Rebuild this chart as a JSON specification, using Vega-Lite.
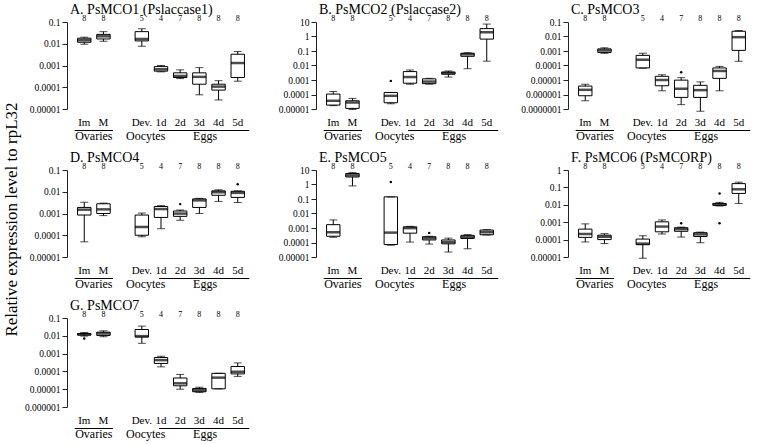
{
"$schema": "https://vega.github.io/schema/vega-lite/v6.json",
"padding": {"left": 2, "top": 3, "right": 0, "bottom": 0},
"title": {"text": "Relative expression level to rpL32", "orient": "left", "anchor": "middle", "frame": "bounds", "fontSize": 17, "font": "Liberation Serif", "fontWeight": "normal", "color": "black", "offset": -4},
"spacing": 7,
"datasets": {
"stats": [
{"panel":"A","cat":"Im","min":0.0095,"q1":0.0117,"med":0.0145,"q3":0.018,"max":0.02},
{"panel":"A","cat":"M","min":0.013,"q1":0.0166,"med":0.022,"q3":0.027,"max":0.036},
{"panel":"A","cat":"Dev.","min":0.0077,"q1":0.0135,"med":0.0166,"q3":0.036,"max":0.049},
{"panel":"A","cat":"1d","min":0.00051,"q1":0.00055,"med":0.00067,"q3":0.00089,"max":0.001},
{"panel":"A","cat":"2d","min":0.00025,"q1":0.00028,"med":0.00033,"q3":0.00046,"max":0.00063},
{"panel":"A","cat":"3d","min":0.000045,"q1":0.000138,"med":0.0003,"q3":0.00046,"max":0.0008},
{"panel":"A","cat":"4d","min":0.000026,"q1":0.000074,"med":0.000107,"q3":0.000138,"max":0.0002},
{"panel":"A","cat":"5d","min":0.00019,"q1":0.00028,"med":0.0013,"q3":0.0033,"max":0.0044},
{"panel":"B","cat":"Im","min":0.000017,"q1":0.0000186,"med":0.000037,"q3":0.000107,"max":0.00016},
{"panel":"B","cat":"M","min":0.0000093,"q1":0.000011,"med":0.000028,"q3":0.000037,"max":0.000054},
{"panel":"B","cat":"Dev.","min":0.000023,"q1":0.000027,"med":0.000081,"q3":0.000138,"max":0.000138},
{"panel":"B","cat":"1d","min":0.00051,"q1":0.0006,"med":0.0016,"q3":0.0038,"max":0.0049},
{"panel":"B","cat":"2d","min":0.00052,"q1":0.00056,"med":0.00078,"q3":0.0012,"max":0.0013},
{"panel":"B","cat":"3d","min":0.0016,"q1":0.0025,"med":0.0031,"q3":0.0035,"max":0.0042},
{"panel":"B","cat":"4d","min":0.006,"q1":0.043,"med":0.059,"q3":0.07,"max":0.076},
{"panel":"B","cat":"5d","min":0.02,"q1":0.66,"med":1.96,"q3":3.5,"max":7.2},
{"panel":"C","cat":"Im","min":0.00000037,"q1":0.00000082,"med":0.0000021,"q3":0.0000038,"max":0.0000051},
{"panel":"C","cat":"M","min":0.00069,"q1":0.0008,"med":0.0011,"q3":0.0014,"max":0.00166},
{"panel":"C","cat":"Dev.","min":0.000065,"q1":0.000068,"med":0.00025,"q3":0.0005,"max":0.0007},
{"panel":"C","cat":"1d","min":0.0000018,"q1":0.000004,"med":0.00001,"q3":0.000018,"max":0.000023},
{"panel":"C","cat":"2d","min":0.0000002,"q1":0.00000063,"med":0.0000025,"q3":0.0000098,"max":0.0000145},
{"panel":"C","cat":"3d","min":0.00000007,"q1":0.00000063,"med":0.000002,"q3":0.0000043,"max":0.0000074},
{"panel":"C","cat":"4d","min":0.0000018,"q1":0.000013,"med":0.000042,"q3":0.000068,"max":0.000087},
{"panel":"C","cat":"5d","min":0.000195,"q1":0.0011,"med":0.009,"q3":0.023,"max":0.026},
{"panel":"D","cat":"Im","min":0.00005,"q1":0.00085,"med":0.0015,"q3":0.0019,"max":0.0033},
{"panel":"D","cat":"M","min":0.0008,"q1":0.001,"med":0.00155,"q3":0.0028,"max":0.003},
{"panel":"D","cat":"Dev.","min":0.000085,"q1":0.0001,"med":0.00024,"q3":0.00085,"max":0.00105},
{"panel":"D","cat":"1d","min":0.0002,"q1":0.00066,"med":0.0016,"q3":0.0021,"max":0.0023},
{"panel":"D","cat":"2d","min":0.00049,"q1":0.00074,"med":0.00099,"q3":0.0013,"max":0.00145},
{"panel":"D","cat":"3d","min":0.001,"q1":0.0019,"med":0.004,"q3":0.0047,"max":0.005},
{"panel":"D","cat":"4d","min":0.0036,"q1":0.0069,"med":0.0095,"q3":0.011,"max":0.0123},
{"panel":"D","cat":"5d","min":0.0032,"q1":0.0055,"med":0.0089,"q3":0.0105,"max":0.011},
{"panel":"E","cat":"Im","min":0.00023,"q1":0.00027,"med":0.00051,"q3":0.0017,"max":0.0036},
{"panel":"E","cat":"M","min":0.8,"q1":3.3,"med":4.3,"q3":5.7,"max":6.6},
{"panel":"E","cat":"Dev.","min":0.000065,"q1":0.000072,"med":0.00048,"q3":0.14,"max":0.14},
{"panel":"E","cat":"1d","min":0.000107,"q1":0.00044,"med":0.00098,"q3":0.0012,"max":0.0013},
{"panel":"E","cat":"2d","min":0.000078,"q1":0.00015,"med":0.0002,"q3":0.00025,"max":0.00027},
{"panel":"E","cat":"3d","min":0.000022,"q1":0.000081,"med":0.000107,"q3":0.00015,"max":0.0002},
{"panel":"E","cat":"4d","min":0.000037,"q1":0.00019,"med":0.00023,"q3":0.00031,"max":0.00035},
{"panel":"E","cat":"5d","min":0.00033,"q1":0.00034,"med":0.00051,"q3":0.00072,"max":0.00078},
{"panel":"F","cat":"Im","min":0.000073,"q1":0.000134,"med":0.00021,"q3":0.0004,"max":0.0008},
{"panel":"F","cat":"M","min":0.000059,"q1":0.0001,"med":0.000145,"q3":0.00018,"max":0.00022},
{"panel":"F","cat":"Dev.","min":0.0000085,"q1":0.000051,"med":0.000059,"q3":0.000107,"max":0.000166},
{"panel":"F","cat":"1d","min":0.00021,"q1":0.00028,"med":0.00056,"q3":0.00105,"max":0.00135},
{"panel":"F","cat":"2d","min":0.00014,"q1":0.0003,"med":0.0004,"q3":0.00048,"max":0.00052},
{"panel":"F","cat":"3d","min":0.000066,"q1":0.00015,"med":0.0002,"q3":0.00025,"max":0.00027},
{"panel":"F","cat":"4d","min":0.0085,"q1":0.0093,"med":0.0105,"q3":0.012,"max":0.0138},
{"panel":"F","cat":"5d","min":0.012,"q1":0.045,"med":0.078,"q3":0.165,"max":0.2},
{"panel":"G","cat":"Im","min":0.0096,"q1":0.011,"med":0.012,"q3":0.0135,"max":0.0154},
{"panel":"G","cat":"M","min":0.0089,"q1":0.0105,"med":0.0135,"q3":0.016,"max":0.019},
{"panel":"G","cat":"Dev.","min":0.0038,"q1":0.0085,"med":0.0096,"q3":0.0225,"max":0.035},
{"panel":"G","cat":"1d","min":0.00018,"q1":0.00028,"med":0.00043,"q3":0.0006,"max":0.00071},
{"panel":"G","cat":"2d","min":0.00001,"q1":0.0000155,"med":0.0000214,"q3":0.0000426,"max":0.0000676},
{"panel":"G","cat":"3d","min":0.0000066,"q1":0.0000072,"med":0.0000087,"q3":0.000011,"max":0.0000129},
{"panel":"G","cat":"4d","min":0.0000105,"q1":0.0000105,"med":0.0000447,"q3":0.000078,"max":0.000078},
{"panel":"G","cat":"5d","min":0.0000525,"q1":0.0000724,"med":0.0000955,"q3":0.00019,"max":0.0003}
],
"outliers": [
{"panel":"B","cat":"Dev.","v":0.00087},
{"panel":"C","cat":"2d","v":0.000034},
{"panel":"D","cat":"2d","v":0.0027},
{"panel":"D","cat":"5d","v":0.022},
{"panel":"E","cat":"Dev.","v":1.5},
{"panel":"E","cat":"2d","v":0.00046},
{"panel":"F","cat":"2d","v":0.00087},
{"panel":"F","cat":"4d","v":0.045},
{"panel":"F","cat":"4d","v":0.00087},
{"panel":"G","cat":"Im","v":0.0071}
],
"nlab": [
{"cat":"Im","n":8},{"cat":"M","n":8},{"cat":"Dev.","n":5},{"cat":"1d","n":4},{"cat":"2d","n":7},{"cat":"3d","n":8},{"cat":"4d","n":8},{"cat":"5d","n":8}
],
"groups": [
{"group":"Ovaries","from":"Im","to":"M","at":"Im"},
{"group":"Oocytes","from":"Dev.","to":"Dev.","at":"Dev."},
{"group":"Eggs","from":"1d","to":"5d","at":"3d"}
]
},
"vconcat": [
{"spacing": 10, "hconcat": [
{"spacing": 0, "vconcat": [
{"width": 188, "height": 87, "title": {"text": "A. PsMCO1 (Pslaccase1)"},
"layer": [
{"data": {"name": "stats"}, "transform": [{"filter": "datum.panel == 'A'"}], "mark": {"type": "rule", "color": "black"},
 "encoding": {"x": {"field": "cat", "type": "nominal", "title": null, "scale": {"domain": ["Im","M"," ","Dev.","1d","2d","3d","4d","5d"], "paddingInner": 0, "paddingOuter": 0.4}},
 "y": {"field": "min", "type": "quantitative", "title": null, "scale": {"type": "log", "domain": [0.00001, 0.1], "nice": false}, "axis": {"values": [0.00001,0.0001,0.001,0.01,0.1], "format": ".7~f", "minExtent": 50, "maxExtent": 50}},
 "y2": {"field": "max"}}},
{"data": {"name": "stats"}, "transform": [{"filter": "datum.panel == 'A'"}], "mark": {"type": "bar", "width": {"band": 0.7}, "fill": "white", "stroke": "black", "strokeWidth": 1},
 "encoding": {"x": {"field": "cat", "type": "nominal"}, "y": {"field": "q1", "type": "quantitative", "title": null}, "y2": {"field": "q3"}}},
{"data": {"name": "stats"}, "transform": [{"filter": "datum.panel == 'A'"}], "mark": {"type": "tick", "size": 13.5, "thickness": 2.5, "color": "black"},
 "encoding": {"x": {"field": "cat", "type": "nominal"}, "y": {"field": "med", "type": "quantitative", "title": null}}},
{"data": {"name": "stats"}, "transform": [{"filter": "datum.panel == 'A'"}], "mark": {"type": "tick", "size": 8, "thickness": 1, "color": "black"},
 "encoding": {"x": {"field": "cat", "type": "nominal"}, "y": {"field": "min", "type": "quantitative", "title": null}}},
{"data": {"name": "stats"}, "transform": [{"filter": "datum.panel == 'A'"}], "mark": {"type": "tick", "size": 8, "thickness": 1, "color": "black"},
 "encoding": {"x": {"field": "cat", "type": "nominal"}, "y": {"field": "max", "type": "quantitative", "title": null}}},
{"data": {"name": "outliers"}, "transform": [{"filter": "datum.panel == 'A'"}], "mark": {"type": "point", "filled": true, "size": 6, "color": "black", "opacity": 1},
 "encoding": {"x": {"field": "cat", "type": "nominal"}, "y": {"field": "v", "type": "quantitative", "title": null}}},
{"data": {"name": "nlab"}, "mark": {"type": "text", "fontSize": 8, "baseline": "bottom", "dy": 1, "fill": "black"},
 "encoding": {"x": {"field": "cat", "type": "nominal"}, "y": {"datum": 0.1}, "text": {"field": "n"}}}
]},
{"width": 188, "height": 17, "data": {"name": "groups"},
"layer": [
{"transform": [{"filter": "datum.group == 'Ovaries'"}], "mark": {"type": "rule", "color": "black"},
 "encoding": {"x": {"field": "from", "type": "nominal", "bandPosition": 0, "axis": null, "scale": {"domain": ["Im","M"," ","Dev.","1d","2d","3d","4d","5d"], "paddingInner": 0, "paddingOuter": 0.4}}, "x2": {"field": "to", "bandPosition": 1},
 "y": {"datum": "line", "type": "nominal", "axis": null, "scale": {"type": "point", "domain": ["line","label"], "range": [1, 11]}}}},
{"transform": [{"filter": "datum.group == 'Eggs'"}], "mark": {"type": "rule", "color": "black"},
 "encoding": {"x": {"field": "from", "type": "nominal", "bandPosition": 0.4}, "x2": {"field": "to", "bandPosition": 1.1}, "y": {"datum": "line", "type": "nominal"}}},
{"transform": [{"filter": "datum.group == 'Ovaries'"}], "mark": {"type": "text", "fontSize": 12, "baseline": "middle", "fill": "black"},
 "encoding": {"x": {"field": "at", "type": "nominal", "bandPosition": 1}, "y": {"datum": "label", "type": "nominal"}, "text": {"field": "group"}}},
{"transform": [{"filter": "datum.group == 'Oocytes'"}], "mark": {"type": "text", "fontSize": 12, "baseline": "middle", "fill": "black"},
 "encoding": {"x": {"field": "at", "type": "nominal", "bandPosition": 0.7}, "y": {"datum": "label", "type": "nominal"}, "text": {"field": "group"}}},
{"transform": [{"filter": "datum.group == 'Eggs'"}], "mark": {"type": "text", "fontSize": 12, "baseline": "middle", "fill": "black"},
 "encoding": {"x": {"field": "at", "type": "nominal", "bandPosition": 0.8}, "y": {"datum": "label", "type": "nominal"}, "text": {"field": "group"}}}
]}
]},
{"spacing": 0, "vconcat": [
{"width": 188, "height": 87, "title": {"text": "B. PsMCO2 (Pslaccase2)"},
"layer": [
{"data": {"name": "stats"}, "transform": [{"filter": "datum.panel == 'B'"}], "mark": {"type": "rule", "color": "black"},
 "encoding": {"x": {"field": "cat", "type": "nominal", "title": null, "scale": {"domain": ["Im","M"," ","Dev.","1d","2d","3d","4d","5d"], "paddingInner": 0, "paddingOuter": 0.4}},
 "y": {"field": "min", "type": "quantitative", "title": null, "scale": {"type": "log", "domain": [0.00001, 10], "nice": false}, "axis": {"values": [0.00001,0.0001,0.001,0.01,0.1,1,10], "format": ".7~f", "minExtent": 51, "maxExtent": 51}},
 "y2": {"field": "max"}}},
{"data": {"name": "stats"}, "transform": [{"filter": "datum.panel == 'B'"}], "mark": {"type": "bar", "width": {"band": 0.7}, "fill": "white", "stroke": "black", "strokeWidth": 1},
 "encoding": {"x": {"field": "cat", "type": "nominal"}, "y": {"field": "q1", "type": "quantitative", "title": null}, "y2": {"field": "q3"}}},
{"data": {"name": "stats"}, "transform": [{"filter": "datum.panel == 'B'"}], "mark": {"type": "tick", "size": 13.5, "thickness": 2.5, "color": "black"},
 "encoding": {"x": {"field": "cat", "type": "nominal"}, "y": {"field": "med", "type": "quantitative", "title": null}}},
{"data": {"name": "stats"}, "transform": [{"filter": "datum.panel == 'B'"}], "mark": {"type": "tick", "size": 8, "thickness": 1, "color": "black"},
 "encoding": {"x": {"field": "cat", "type": "nominal"}, "y": {"field": "min", "type": "quantitative", "title": null}}},
{"data": {"name": "stats"}, "transform": [{"filter": "datum.panel == 'B'"}], "mark": {"type": "tick", "size": 8, "thickness": 1, "color": "black"},
 "encoding": {"x": {"field": "cat", "type": "nominal"}, "y": {"field": "max", "type": "quantitative", "title": null}}},
{"data": {"name": "outliers"}, "transform": [{"filter": "datum.panel == 'B'"}], "mark": {"type": "point", "filled": true, "size": 6, "color": "black", "opacity": 1},
 "encoding": {"x": {"field": "cat", "type": "nominal"}, "y": {"field": "v", "type": "quantitative", "title": null}}},
{"data": {"name": "nlab"}, "mark": {"type": "text", "fontSize": 8, "baseline": "bottom", "dy": 1, "fill": "black"},
 "encoding": {"x": {"field": "cat", "type": "nominal"}, "y": {"datum": 10}, "text": {"field": "n"}}}
]},
{"width": 188, "height": 17, "data": {"name": "groups"},
"layer": [
{"transform": [{"filter": "datum.group == 'Ovaries'"}], "mark": {"type": "rule", "color": "black"},
 "encoding": {"x": {"field": "from", "type": "nominal", "bandPosition": 0, "axis": null, "scale": {"domain": ["Im","M"," ","Dev.","1d","2d","3d","4d","5d"], "paddingInner": 0, "paddingOuter": 0.4}}, "x2": {"field": "to", "bandPosition": 1},
 "y": {"datum": "line", "type": "nominal", "axis": null, "scale": {"type": "point", "domain": ["line","label"], "range": [1, 11]}}}},
{"transform": [{"filter": "datum.group == 'Eggs'"}], "mark": {"type": "rule", "color": "black"},
 "encoding": {"x": {"field": "from", "type": "nominal", "bandPosition": 0.4}, "x2": {"field": "to", "bandPosition": 1.1}, "y": {"datum": "line", "type": "nominal"}}},
{"transform": [{"filter": "datum.group == 'Ovaries'"}], "mark": {"type": "text", "fontSize": 12, "baseline": "middle", "fill": "black"},
 "encoding": {"x": {"field": "at", "type": "nominal", "bandPosition": 1}, "y": {"datum": "label", "type": "nominal"}, "text": {"field": "group"}}},
{"transform": [{"filter": "datum.group == 'Oocytes'"}], "mark": {"type": "text", "fontSize": 12, "baseline": "middle", "fill": "black"},
 "encoding": {"x": {"field": "at", "type": "nominal", "bandPosition": 0.7}, "y": {"datum": "label", "type": "nominal"}, "text": {"field": "group"}}},
{"transform": [{"filter": "datum.group == 'Eggs'"}], "mark": {"type": "text", "fontSize": 12, "baseline": "middle", "fill": "black"},
 "encoding": {"x": {"field": "at", "type": "nominal", "bandPosition": 0.8}, "y": {"datum": "label", "type": "nominal"}, "text": {"field": "group"}}}
]}
]},
{"spacing": 0, "vconcat": [
{"width": 188, "height": 87, "title": {"text": "C. PsMCO3"},
"layer": [
{"data": {"name": "stats"}, "transform": [{"filter": "datum.panel == 'C'"}], "mark": {"type": "rule", "color": "black"},
 "encoding": {"x": {"field": "cat", "type": "nominal", "title": null, "scale": {"domain": ["Im","M"," ","Dev.","1d","2d","3d","4d","5d"], "paddingInner": 0, "paddingOuter": 0.4}},
 "y": {"field": "min", "type": "quantitative", "title": null, "scale": {"type": "log", "domain": [0.0000001, 0.1], "nice": false}, "axis": {"values": [0.0000001,0.000001,0.00001,0.0001,0.001,0.01,0.1], "format": ".7~f", "minExtent": 54, "maxExtent": 54}},
 "y2": {"field": "max"}}},
{"data": {"name": "stats"}, "transform": [{"filter": "datum.panel == 'C'"}], "mark": {"type": "bar", "width": {"band": 0.7}, "fill": "white", "stroke": "black", "strokeWidth": 1},
 "encoding": {"x": {"field": "cat", "type": "nominal"}, "y": {"field": "q1", "type": "quantitative", "title": null}, "y2": {"field": "q3"}}},
{"data": {"name": "stats"}, "transform": [{"filter": "datum.panel == 'C'"}], "mark": {"type": "tick", "size": 13.5, "thickness": 2.5, "color": "black"},
 "encoding": {"x": {"field": "cat", "type": "nominal"}, "y": {"field": "med", "type": "quantitative", "title": null}}},
{"data": {"name": "stats"}, "transform": [{"filter": "datum.panel == 'C'"}], "mark": {"type": "tick", "size": 8, "thickness": 1, "color": "black"},
 "encoding": {"x": {"field": "cat", "type": "nominal"}, "y": {"field": "min", "type": "quantitative", "title": null}}},
{"data": {"name": "stats"}, "transform": [{"filter": "datum.panel == 'C'"}], "mark": {"type": "tick", "size": 8, "thickness": 1, "color": "black"},
 "encoding": {"x": {"field": "cat", "type": "nominal"}, "y": {"field": "max", "type": "quantitative", "title": null}}},
{"data": {"name": "outliers"}, "transform": [{"filter": "datum.panel == 'C'"}], "mark": {"type": "point", "filled": true, "size": 6, "color": "black", "opacity": 1},
 "encoding": {"x": {"field": "cat", "type": "nominal"}, "y": {"field": "v", "type": "quantitative", "title": null}}},
{"data": {"name": "nlab"}, "mark": {"type": "text", "fontSize": 8, "baseline": "bottom", "dy": 1, "fill": "black"},
 "encoding": {"x": {"field": "cat", "type": "nominal"}, "y": {"datum": 0.1}, "text": {"field": "n"}}}
]},
{"width": 188, "height": 17, "data": {"name": "groups"},
"layer": [
{"transform": [{"filter": "datum.group == 'Ovaries'"}], "mark": {"type": "rule", "color": "black"},
 "encoding": {"x": {"field": "from", "type": "nominal", "bandPosition": 0, "axis": null, "scale": {"domain": ["Im","M"," ","Dev.","1d","2d","3d","4d","5d"], "paddingInner": 0, "paddingOuter": 0.4}}, "x2": {"field": "to", "bandPosition": 1},
 "y": {"datum": "line", "type": "nominal", "axis": null, "scale": {"type": "point", "domain": ["line","label"], "range": [1, 11]}}}},
{"transform": [{"filter": "datum.group == 'Eggs'"}], "mark": {"type": "rule", "color": "black"},
 "encoding": {"x": {"field": "from", "type": "nominal", "bandPosition": 0.4}, "x2": {"field": "to", "bandPosition": 1.1}, "y": {"datum": "line", "type": "nominal"}}},
{"transform": [{"filter": "datum.group == 'Ovaries'"}], "mark": {"type": "text", "fontSize": 12, "baseline": "middle", "fill": "black"},
 "encoding": {"x": {"field": "at", "type": "nominal", "bandPosition": 1}, "y": {"datum": "label", "type": "nominal"}, "text": {"field": "group"}}},
{"transform": [{"filter": "datum.group == 'Oocytes'"}], "mark": {"type": "text", "fontSize": 12, "baseline": "middle", "fill": "black"},
 "encoding": {"x": {"field": "at", "type": "nominal", "bandPosition": 0.7}, "y": {"datum": "label", "type": "nominal"}, "text": {"field": "group"}}},
{"transform": [{"filter": "datum.group == 'Eggs'"}], "mark": {"type": "text", "fontSize": 12, "baseline": "middle", "fill": "black"},
 "encoding": {"x": {"field": "at", "type": "nominal", "bandPosition": 0.8}, "y": {"datum": "label", "type": "nominal"}, "text": {"field": "group"}}}
]}
]}
]},
{"spacing": 10, "hconcat": [
{"spacing": 0, "vconcat": [
{"width": 188, "height": 87, "title": {"text": "D. PsMCO4"},
"layer": [
{"data": {"name": "stats"}, "transform": [{"filter": "datum.panel == 'D'"}], "mark": {"type": "rule", "color": "black"},
 "encoding": {"x": {"field": "cat", "type": "nominal", "title": null, "scale": {"domain": ["Im","M"," ","Dev.","1d","2d","3d","4d","5d"], "paddingInner": 0, "paddingOuter": 0.4}},
 "y": {"field": "min", "type": "quantitative", "title": null, "scale": {"type": "log", "domain": [0.00001, 0.1], "nice": false}, "axis": {"values": [0.00001,0.0001,0.001,0.01,0.1], "format": ".7~f", "minExtent": 50, "maxExtent": 50}},
 "y2": {"field": "max"}}},
{"data": {"name": "stats"}, "transform": [{"filter": "datum.panel == 'D'"}], "mark": {"type": "bar", "width": {"band": 0.7}, "fill": "white", "stroke": "black", "strokeWidth": 1},
 "encoding": {"x": {"field": "cat", "type": "nominal"}, "y": {"field": "q1", "type": "quantitative", "title": null}, "y2": {"field": "q3"}}},
{"data": {"name": "stats"}, "transform": [{"filter": "datum.panel == 'D'"}], "mark": {"type": "tick", "size": 13.5, "thickness": 2.5, "color": "black"},
 "encoding": {"x": {"field": "cat", "type": "nominal"}, "y": {"field": "med", "type": "quantitative", "title": null}}},
{"data": {"name": "stats"}, "transform": [{"filter": "datum.panel == 'D'"}], "mark": {"type": "tick", "size": 8, "thickness": 1, "color": "black"},
 "encoding": {"x": {"field": "cat", "type": "nominal"}, "y": {"field": "min", "type": "quantitative", "title": null}}},
{"data": {"name": "stats"}, "transform": [{"filter": "datum.panel == 'D'"}], "mark": {"type": "tick", "size": 8, "thickness": 1, "color": "black"},
 "encoding": {"x": {"field": "cat", "type": "nominal"}, "y": {"field": "max", "type": "quantitative", "title": null}}},
{"data": {"name": "outliers"}, "transform": [{"filter": "datum.panel == 'D'"}], "mark": {"type": "point", "filled": true, "size": 6, "color": "black", "opacity": 1},
 "encoding": {"x": {"field": "cat", "type": "nominal"}, "y": {"field": "v", "type": "quantitative", "title": null}}},
{"data": {"name": "nlab"}, "mark": {"type": "text", "fontSize": 8, "baseline": "bottom", "dy": 1, "fill": "black"},
 "encoding": {"x": {"field": "cat", "type": "nominal"}, "y": {"datum": 0.1}, "text": {"field": "n"}}}
]},
{"width": 188, "height": 17, "data": {"name": "groups"},
"layer": [
{"transform": [{"filter": "datum.group == 'Ovaries'"}], "mark": {"type": "rule", "color": "black"},
 "encoding": {"x": {"field": "from", "type": "nominal", "bandPosition": 0, "axis": null, "scale": {"domain": ["Im","M"," ","Dev.","1d","2d","3d","4d","5d"], "paddingInner": 0, "paddingOuter": 0.4}}, "x2": {"field": "to", "bandPosition": 1},
 "y": {"datum": "line", "type": "nominal", "axis": null, "scale": {"type": "point", "domain": ["line","label"], "range": [1, 11]}}}},
{"transform": [{"filter": "datum.group == 'Eggs'"}], "mark": {"type": "rule", "color": "black"},
 "encoding": {"x": {"field": "from", "type": "nominal", "bandPosition": 0.4}, "x2": {"field": "to", "bandPosition": 1.1}, "y": {"datum": "line", "type": "nominal"}}},
{"transform": [{"filter": "datum.group == 'Ovaries'"}], "mark": {"type": "text", "fontSize": 12, "baseline": "middle", "fill": "black"},
 "encoding": {"x": {"field": "at", "type": "nominal", "bandPosition": 1}, "y": {"datum": "label", "type": "nominal"}, "text": {"field": "group"}}},
{"transform": [{"filter": "datum.group == 'Oocytes'"}], "mark": {"type": "text", "fontSize": 12, "baseline": "middle", "fill": "black"},
 "encoding": {"x": {"field": "at", "type": "nominal", "bandPosition": 0.7}, "y": {"datum": "label", "type": "nominal"}, "text": {"field": "group"}}},
{"transform": [{"filter": "datum.group == 'Eggs'"}], "mark": {"type": "text", "fontSize": 12, "baseline": "middle", "fill": "black"},
 "encoding": {"x": {"field": "at", "type": "nominal", "bandPosition": 0.8}, "y": {"datum": "label", "type": "nominal"}, "text": {"field": "group"}}}
]}
]},
{"spacing": 0, "vconcat": [
{"width": 188, "height": 87, "title": {"text": "E. PsMCO5"},
"layer": [
{"data": {"name": "stats"}, "transform": [{"filter": "datum.panel == 'E'"}], "mark": {"type": "rule", "color": "black"},
 "encoding": {"x": {"field": "cat", "type": "nominal", "title": null, "scale": {"domain": ["Im","M"," ","Dev.","1d","2d","3d","4d","5d"], "paddingInner": 0, "paddingOuter": 0.4}},
 "y": {"field": "min", "type": "quantitative", "title": null, "scale": {"type": "log", "domain": [0.00001, 10], "nice": false}, "axis": {"values": [0.00001,0.0001,0.001,0.01,0.1,1,10], "format": ".7~f", "minExtent": 51, "maxExtent": 51}},
 "y2": {"field": "max"}}},
{"data": {"name": "stats"}, "transform": [{"filter": "datum.panel == 'E'"}], "mark": {"type": "bar", "width": {"band": 0.7}, "fill": "white", "stroke": "black", "strokeWidth": 1},
 "encoding": {"x": {"field": "cat", "type": "nominal"}, "y": {"field": "q1", "type": "quantitative", "title": null}, "y2": {"field": "q3"}}},
{"data": {"name": "stats"}, "transform": [{"filter": "datum.panel == 'E'"}], "mark": {"type": "tick", "size": 13.5, "thickness": 2.5, "color": "black"},
 "encoding": {"x": {"field": "cat", "type": "nominal"}, "y": {"field": "med", "type": "quantitative", "title": null}}},
{"data": {"name": "stats"}, "transform": [{"filter": "datum.panel == 'E'"}], "mark": {"type": "tick", "size": 8, "thickness": 1, "color": "black"},
 "encoding": {"x": {"field": "cat", "type": "nominal"}, "y": {"field": "min", "type": "quantitative", "title": null}}},
{"data": {"name": "stats"}, "transform": [{"filter": "datum.panel == 'E'"}], "mark": {"type": "tick", "size": 8, "thickness": 1, "color": "black"},
 "encoding": {"x": {"field": "cat", "type": "nominal"}, "y": {"field": "max", "type": "quantitative", "title": null}}},
{"data": {"name": "outliers"}, "transform": [{"filter": "datum.panel == 'E'"}], "mark": {"type": "point", "filled": true, "size": 6, "color": "black", "opacity": 1},
 "encoding": {"x": {"field": "cat", "type": "nominal"}, "y": {"field": "v", "type": "quantitative", "title": null}}},
{"data": {"name": "nlab"}, "mark": {"type": "text", "fontSize": 8, "baseline": "bottom", "dy": 1, "fill": "black"},
 "encoding": {"x": {"field": "cat", "type": "nominal"}, "y": {"datum": 10}, "text": {"field": "n"}}}
]},
{"width": 188, "height": 17, "data": {"name": "groups"},
"layer": [
{"transform": [{"filter": "datum.group == 'Ovaries'"}], "mark": {"type": "rule", "color": "black"},
 "encoding": {"x": {"field": "from", "type": "nominal", "bandPosition": 0, "axis": null, "scale": {"domain": ["Im","M"," ","Dev.","1d","2d","3d","4d","5d"], "paddingInner": 0, "paddingOuter": 0.4}}, "x2": {"field": "to", "bandPosition": 1},
 "y": {"datum": "line", "type": "nominal", "axis": null, "scale": {"type": "point", "domain": ["line","label"], "range": [1, 11]}}}},
{"transform": [{"filter": "datum.group == 'Eggs'"}], "mark": {"type": "rule", "color": "black"},
 "encoding": {"x": {"field": "from", "type": "nominal", "bandPosition": 0.4}, "x2": {"field": "to", "bandPosition": 1.1}, "y": {"datum": "line", "type": "nominal"}}},
{"transform": [{"filter": "datum.group == 'Ovaries'"}], "mark": {"type": "text", "fontSize": 12, "baseline": "middle", "fill": "black"},
 "encoding": {"x": {"field": "at", "type": "nominal", "bandPosition": 1}, "y": {"datum": "label", "type": "nominal"}, "text": {"field": "group"}}},
{"transform": [{"filter": "datum.group == 'Oocytes'"}], "mark": {"type": "text", "fontSize": 12, "baseline": "middle", "fill": "black"},
 "encoding": {"x": {"field": "at", "type": "nominal", "bandPosition": 0.7}, "y": {"datum": "label", "type": "nominal"}, "text": {"field": "group"}}},
{"transform": [{"filter": "datum.group == 'Eggs'"}], "mark": {"type": "text", "fontSize": 12, "baseline": "middle", "fill": "black"},
 "encoding": {"x": {"field": "at", "type": "nominal", "bandPosition": 0.8}, "y": {"datum": "label", "type": "nominal"}, "text": {"field": "group"}}}
]}
]},
{"spacing": 0, "vconcat": [
{"width": 188, "height": 87, "title": {"text": "F. PsMCO6 (PsMCORP)"},
"layer": [
{"data": {"name": "stats"}, "transform": [{"filter": "datum.panel == 'F'"}], "mark": {"type": "rule", "color": "black"},
 "encoding": {"x": {"field": "cat", "type": "nominal", "title": null, "scale": {"domain": ["Im","M"," ","Dev.","1d","2d","3d","4d","5d"], "paddingInner": 0, "paddingOuter": 0.4}},
 "y": {"field": "min", "type": "quantitative", "title": null, "scale": {"type": "log", "domain": [0.00001, 1], "nice": false}, "axis": {"values": [0.00001,0.0001,0.001,0.01,0.1,1], "format": ".7~f", "minExtent": 54, "maxExtent": 54}},
 "y2": {"field": "max"}}},
{"data": {"name": "stats"}, "transform": [{"filter": "datum.panel == 'F'"}], "mark": {"type": "bar", "width": {"band": 0.7}, "fill": "white", "stroke": "black", "strokeWidth": 1},
 "encoding": {"x": {"field": "cat", "type": "nominal"}, "y": {"field": "q1", "type": "quantitative", "title": null}, "y2": {"field": "q3"}}},
{"data": {"name": "stats"}, "transform": [{"filter": "datum.panel == 'F'"}], "mark": {"type": "tick", "size": 13.5, "thickness": 2.5, "color": "black"},
 "encoding": {"x": {"field": "cat", "type": "nominal"}, "y": {"field": "med", "type": "quantitative", "title": null}}},
{"data": {"name": "stats"}, "transform": [{"filter": "datum.panel == 'F'"}], "mark": {"type": "tick", "size": 8, "thickness": 1, "color": "black"},
 "encoding": {"x": {"field": "cat", "type": "nominal"}, "y": {"field": "min", "type": "quantitative", "title": null}}},
{"data": {"name": "stats"}, "transform": [{"filter": "datum.panel == 'F'"}], "mark": {"type": "tick", "size": 8, "thickness": 1, "color": "black"},
 "encoding": {"x": {"field": "cat", "type": "nominal"}, "y": {"field": "max", "type": "quantitative", "title": null}}},
{"data": {"name": "outliers"}, "transform": [{"filter": "datum.panel == 'F'"}], "mark": {"type": "point", "filled": true, "size": 6, "color": "black", "opacity": 1},
 "encoding": {"x": {"field": "cat", "type": "nominal"}, "y": {"field": "v", "type": "quantitative", "title": null}}},
{"data": {"name": "nlab"}, "mark": {"type": "text", "fontSize": 8, "baseline": "bottom", "dy": 1, "fill": "black"},
 "encoding": {"x": {"field": "cat", "type": "nominal"}, "y": {"datum": 1}, "text": {"field": "n"}}}
]},
{"width": 188, "height": 17, "data": {"name": "groups"},
"layer": [
{"transform": [{"filter": "datum.group == 'Ovaries'"}], "mark": {"type": "rule", "color": "black"},
 "encoding": {"x": {"field": "from", "type": "nominal", "bandPosition": 0, "axis": null, "scale": {"domain": ["Im","M"," ","Dev.","1d","2d","3d","4d","5d"], "paddingInner": 0, "paddingOuter": 0.4}}, "x2": {"field": "to", "bandPosition": 1},
 "y": {"datum": "line", "type": "nominal", "axis": null, "scale": {"type": "point", "domain": ["line","label"], "range": [1, 11]}}}},
{"transform": [{"filter": "datum.group == 'Eggs'"}], "mark": {"type": "rule", "color": "black"},
 "encoding": {"x": {"field": "from", "type": "nominal", "bandPosition": 0.4}, "x2": {"field": "to", "bandPosition": 1.1}, "y": {"datum": "line", "type": "nominal"}}},
{"transform": [{"filter": "datum.group == 'Ovaries'"}], "mark": {"type": "text", "fontSize": 12, "baseline": "middle", "fill": "black"},
 "encoding": {"x": {"field": "at", "type": "nominal", "bandPosition": 1}, "y": {"datum": "label", "type": "nominal"}, "text": {"field": "group"}}},
{"transform": [{"filter": "datum.group == 'Oocytes'"}], "mark": {"type": "text", "fontSize": 12, "baseline": "middle", "fill": "black"},
 "encoding": {"x": {"field": "at", "type": "nominal", "bandPosition": 0.7}, "y": {"datum": "label", "type": "nominal"}, "text": {"field": "group"}}},
{"transform": [{"filter": "datum.group == 'Eggs'"}], "mark": {"type": "text", "fontSize": 12, "baseline": "middle", "fill": "black"},
 "encoding": {"x": {"field": "at", "type": "nominal", "bandPosition": 0.8}, "y": {"datum": "label", "type": "nominal"}, "text": {"field": "group"}}}
]}
]}
]},
{"hconcat": [
{"spacing": 0, "vconcat": [
{"width": 188, "height": 89, "title": {"text": "G. PsMCO7"},
"layer": [
{"data": {"name": "stats"}, "transform": [{"filter": "datum.panel == 'G'"}], "mark": {"type": "rule", "color": "black"},
 "encoding": {"x": {"field": "cat", "type": "nominal", "title": null, "scale": {"domain": ["Im","M"," ","Dev.","1d","2d","3d","4d","5d"], "paddingInner": 0, "paddingOuter": 0.4}},
 "y": {"field": "min", "type": "quantitative", "title": null, "scale": {"type": "log", "domain": [0.000001, 0.1], "nice": false}, "axis": {"values": [0.000001,0.00001,0.0001,0.001,0.01,0.1], "format": ".7~f", "minExtent": 50, "maxExtent": 50}},
 "y2": {"field": "max"}}},
{"data": {"name": "stats"}, "transform": [{"filter": "datum.panel == 'G'"}], "mark": {"type": "bar", "width": {"band": 0.7}, "fill": "white", "stroke": "black", "strokeWidth": 1},
 "encoding": {"x": {"field": "cat", "type": "nominal"}, "y": {"field": "q1", "type": "quantitative", "title": null}, "y2": {"field": "q3"}}},
{"data": {"name": "stats"}, "transform": [{"filter": "datum.panel == 'G'"}], "mark": {"type": "tick", "size": 13.5, "thickness": 2.5, "color": "black"},
 "encoding": {"x": {"field": "cat", "type": "nominal"}, "y": {"field": "med", "type": "quantitative", "title": null}}},
{"data": {"name": "stats"}, "transform": [{"filter": "datum.panel == 'G'"}], "mark": {"type": "tick", "size": 8, "thickness": 1, "color": "black"},
 "encoding": {"x": {"field": "cat", "type": "nominal"}, "y": {"field": "min", "type": "quantitative", "title": null}}},
{"data": {"name": "stats"}, "transform": [{"filter": "datum.panel == 'G'"}], "mark": {"type": "tick", "size": 8, "thickness": 1, "color": "black"},
 "encoding": {"x": {"field": "cat", "type": "nominal"}, "y": {"field": "max", "type": "quantitative", "title": null}}},
{"data": {"name": "outliers"}, "transform": [{"filter": "datum.panel == 'G'"}], "mark": {"type": "point", "filled": true, "size": 6, "color": "black", "opacity": 1},
 "encoding": {"x": {"field": "cat", "type": "nominal"}, "y": {"field": "v", "type": "quantitative", "title": null}}},
{"data": {"name": "nlab"}, "mark": {"type": "text", "fontSize": 8, "baseline": "bottom", "dy": 1, "fill": "black"},
 "encoding": {"x": {"field": "cat", "type": "nominal"}, "y": {"datum": 0.1}, "text": {"field": "n"}}}
]},
{"width": 188, "height": 17, "data": {"name": "groups"},
"layer": [
{"transform": [{"filter": "datum.group == 'Ovaries'"}], "mark": {"type": "rule", "color": "black"},
 "encoding": {"x": {"field": "from", "type": "nominal", "bandPosition": 0, "axis": null, "scale": {"domain": ["Im","M"," ","Dev.","1d","2d","3d","4d","5d"], "paddingInner": 0, "paddingOuter": 0.4}}, "x2": {"field": "to", "bandPosition": 1},
 "y": {"datum": "line", "type": "nominal", "axis": null, "scale": {"type": "point", "domain": ["line","label"], "range": [1, 11]}}}},
{"transform": [{"filter": "datum.group == 'Eggs'"}], "mark": {"type": "rule", "color": "black"},
 "encoding": {"x": {"field": "from", "type": "nominal", "bandPosition": 0.4}, "x2": {"field": "to", "bandPosition": 1.1}, "y": {"datum": "line", "type": "nominal"}}},
{"transform": [{"filter": "datum.group == 'Ovaries'"}], "mark": {"type": "text", "fontSize": 12, "baseline": "middle", "fill": "black"},
 "encoding": {"x": {"field": "at", "type": "nominal", "bandPosition": 1}, "y": {"datum": "label", "type": "nominal"}, "text": {"field": "group"}}},
{"transform": [{"filter": "datum.group == 'Oocytes'"}], "mark": {"type": "text", "fontSize": 12, "baseline": "middle", "fill": "black"},
 "encoding": {"x": {"field": "at", "type": "nominal", "bandPosition": 0.7}, "y": {"datum": "label", "type": "nominal"}, "text": {"field": "group"}}},
{"transform": [{"filter": "datum.group == 'Eggs'"}], "mark": {"type": "text", "fontSize": 12, "baseline": "middle", "fill": "black"},
 "encoding": {"x": {"field": "at", "type": "nominal", "bandPosition": 0.8}, "y": {"datum": "label", "type": "nominal"}, "text": {"field": "group"}}}
]}
]}
]}
],
"config": {
"font": "Liberation Serif",
"view": {"stroke": null},
"title": {"anchor": "start", "frame": "group", "fontSize": 14, "fontWeight": "normal", "font": "Liberation Serif", "color": "black", "offset": -2, "dx": 3},
"axisX": {"domain": false, "ticks": false, "labelAngle": 0, "labelFontSize": 11, "labelPadding": 7, "labelColor": "black", "labelFont": "Liberation Serif"},
"axisY": {"grid": false, "domainColor": "#222", "tickColor": "#222", "tickSize": 5, "labelPadding": 2, "labelFontSize": 9.5, "labelColor": "black", "labelFont": "Liberation Serif"}
}
}
